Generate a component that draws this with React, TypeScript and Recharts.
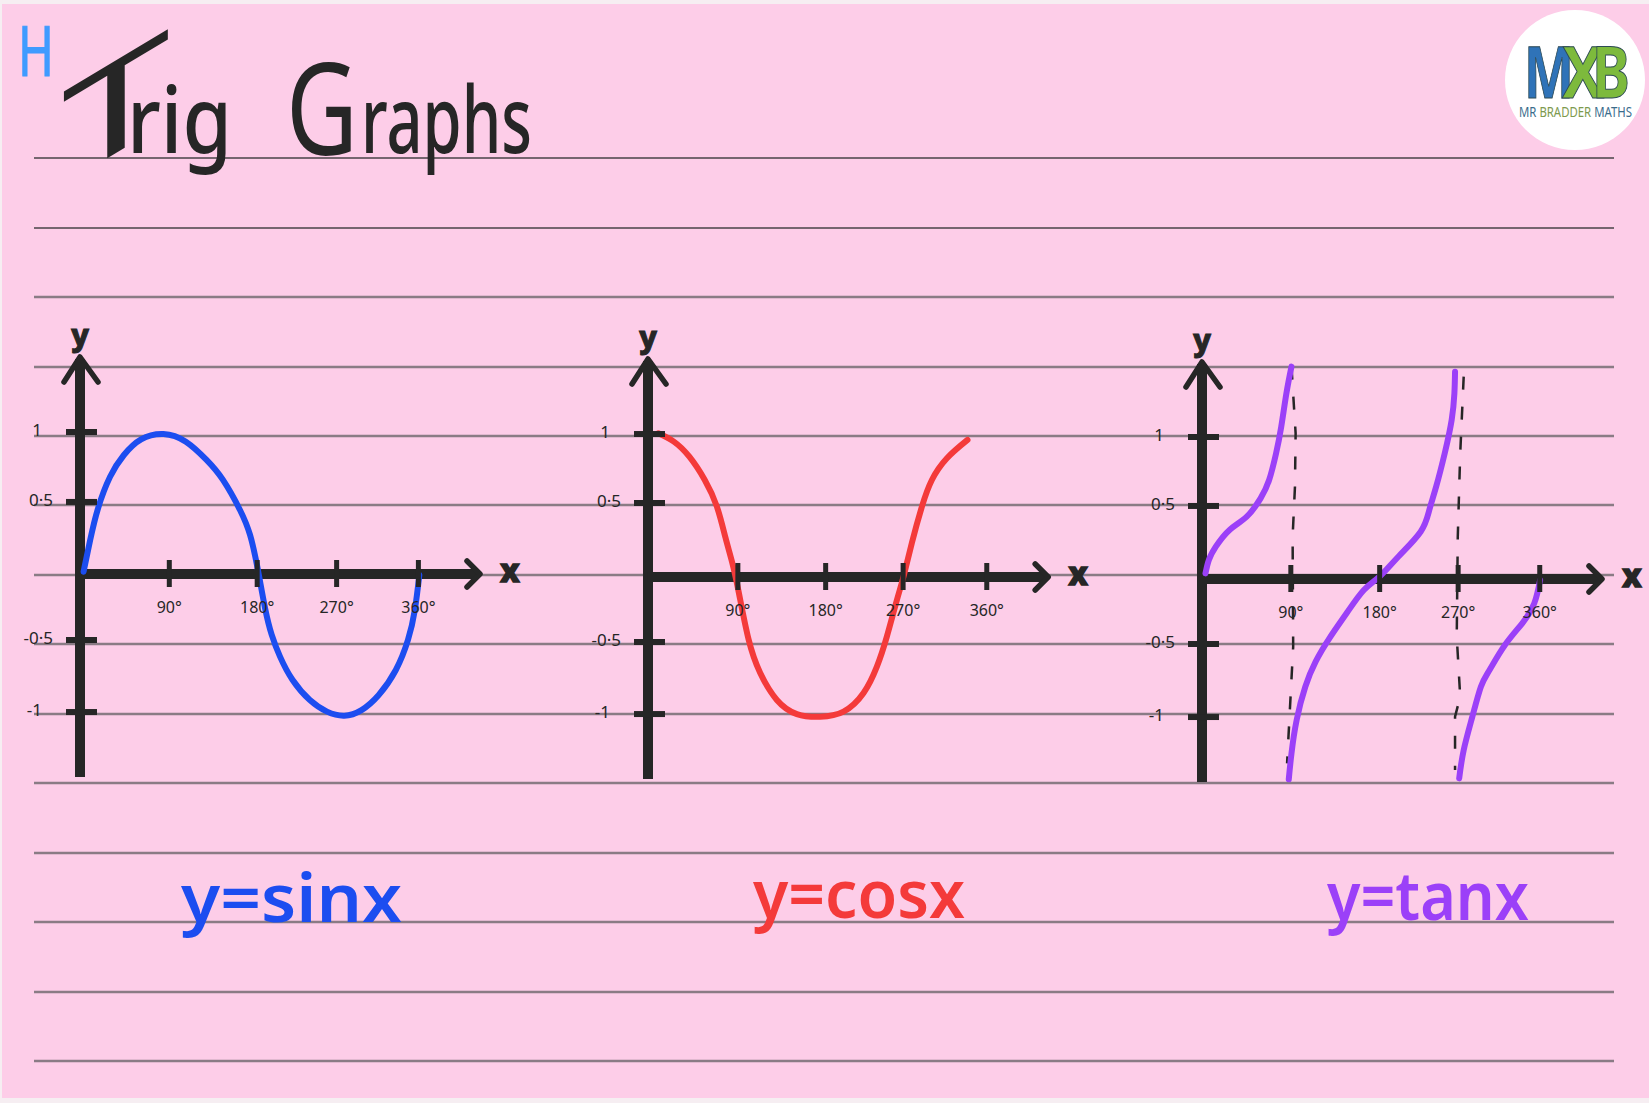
import { Line, LineChart, ReferenceLine, XAxis, YAxis } from "recharts";

const sinX = [3.8, 10.8, 19.2, 32, 46.7, 65, 88.8, 112.6, 134.6, 152.1, 170.2, 180.9, 188.6, 196.8, 203.9, 212.8, 226.2, 244.5, 262.8, 281.1, 299.5, 317.8, 336, 348.9, 356.2, 361];
const sinY = [0.016, 0.24, 0.466, 0.69, 0.844, 0.955, 0.993, 0.938, 0.809, 0.667, 0.454, 0.277, 0.052, -0.24, -0.43, -0.586, -0.752, -0.894, -0.976, -1.005, -0.965, -0.858, -0.681, -0.468, -0.255, -0.007];

const cosX = [11, 27.5, 44, 60.4, 73.3, 82.4, 89.3, 96.3, 106.9, 119.4, 137.1, 158.4, 183.2, 208, 229.3, 243.5, 254.1, 264.8, 271.8, 280.7, 291.4, 302, 318, 339.9];
const cosY = [1.019, 0.96, 0.853, 0.688, 0.499, 0.28, 0.11, -0.1, -0.44, -0.681, -0.872, -0.972, -0.991, -0.955, -0.823, -0.636, -0.423, -0.163, 0.002, 0.241, 0.499, 0.688, 0.842, 0.972];

const tanX1 = [3.7, 7.3, 14.7, 29.3, 47.6, 62.3, 71.4, 78.8, 84.3, 89.8, 95.2];
const tanY1 = [0.04, 0.135, 0.229, 0.348, 0.442, 0.572, 0.702, 0.891, 1.08, 1.317, 1.506];
const tanX2 = [92.3, 95.2, 100.7, 109.9, 120.9, 135.5, 153.8, 172.2, 188.7, 208.8, 232.6, 241.8, 249.1, 258.2, 265.6, 268.5, 269.2];
const tanY2 = [-1.421, -1.236, -1, -0.764, -0.586, -0.421, -0.243, -0.078, 0.016, 0.158, 0.335, 0.489, 0.655, 0.891, 1.128, 1.317, 1.47];
const tanX3 = [273.6, 278.4, 287.6, 296.7, 305.9, 322.3, 340.7, 353.5, 359.7];
const tanY3 = [-1.414, -1.213, -0.976, -0.764, -0.645, -0.468, -0.314, -0.172, -0.007];

const dashX1 = [95.2, 99.6, 98.9, 96.4, 97, 90.5];
const dashY1 = [1.506, 1.033, 0.655, 0.3, -0.48, -1.308];
const dashX2 = [278.4, 274.7, 272.1, 271, 274.7, 269.2, 269.2];
const dashY2 = [1.435, 0.891, 0.3, -0.409, -0.835, -0.976, -1.355];

const xTickLabels = ["90°", "180°", "270°", "360°"];
const yTickLabels = ["1", "0·5", "-0·5", "-1"];

// hand drawn ticks don't sit exactly on the round values
const sinXTicks = [95, 188.5, 273, 360];
const sinYTicks = [1.007, 0.511, -0.468, -0.979];
const cosXTicks = [95.6, 189, 271.4, 360.4];
const cosYTicks = [1.014, 0.525, -0.461, -0.972];
const tanXTicks = [94.5, 189, 272.5, 359.3];
const tanYTicks = [1.007, 0.518, -0.461, -0.979];

const ruledLines = [158, 228, 297, 367, 436, 505, 575, 644, 714, 783, 853, 922, 992, 1061];

const INK = "#262626";
const BLUE = "#1c4df0";
const RED = "#f43a3a";
const PURPLE = "#9b40f8";
const PEN = "'Noto Sans', sans-serif";

const PX_PER_DEG = 0.94;
const PX_PER_UNIT = 141;
const AXIS_W = 78;
const PAD_TOP = 50;
const PAD_BOTTOM = 10;
const PAD_RIGHT = 50;

const zip = (xs: number[], ys: number[]) => xs.map((x, i) => ({ x, y: ys[i] }));

type Curve = { name: string; data: { x: number; y: number }[]; color: string; dashed?: boolean };

type PanelProps = {
  originX: number;
  zeroY: number;
  topY: number;
  bottomY: number;
  tipX: number;
  xTicks: number[];
  yTicks: number[];
  curves: Curve[];
};

function HArrow({ x1, y1, x2 }: any) {
  return (
    <g>
      <line x1={x1} y1={y1} x2={x2 - 2} y2={y1} stroke={INK} strokeWidth={10} />
      <polyline
        points={`${x2 - 13},${y1 - 13} ${x2},${y1} ${x2 - 13},${y1 + 13}`}
        fill="none"
        stroke={INK}
        strokeWidth={5.5}
        strokeLinecap="round"
        strokeLinejoin="round"
      />
      <text x={x2 + 30} y={y1 + 8} textAnchor="middle" fontFamily={PEN} fontWeight={800} fontSize={32} fill={INK} stroke={INK} strokeWidth={1.5}>
        x
      </text>
    </g>
  );
}

function VArrow({ x1, y1, y2 }: any) {
  const top = Math.min(y1, y2);
  const bottom = Math.max(y1, y2);
  return (
    <g>
      <line x1={x1} y1={top + 2} x2={x1} y2={bottom} stroke={INK} strokeWidth={10} />
      <polyline
        points={`${x1 - 16},${top + 25} ${x1},${top} ${x1 + 18},${top + 25}`}
        fill="none"
        stroke={INK}
        strokeWidth={5.5}
        strokeLinecap="round"
        strokeLinejoin="round"
      />
      <text x={x1} y={top - 11} textAnchor="middle" fontFamily={PEN} fontWeight={800} fontSize={30} fill={INK} stroke={INK} strokeWidth={1}>
        y
      </text>
    </g>
  );
}

function TrigPanel({ originX, zeroY, topY, bottomY, tipX, xTicks, yTicks, curves }: PanelProps) {
  const plotW = tipX - originX;
  const plotH = bottomY - topY;
  const toBottom = bottomY - zeroY;

  const renderXTick = ({ x, y, index }: any) => (
    <g key={index}>
      <line x1={x} x2={x} y1={y - toBottom - 14} y2={y - toBottom + 13} stroke={INK} strokeWidth={5} />
      <text x={x} y={y - toBottom + 39} textAnchor="middle" fontFamily={PEN} fontSize={16} fill={INK}>
        {xTickLabels[index]}
      </text>
    </g>
  );

  const renderYTick = ({ x, y, index }: any) => (
    <g key={index}>
      <line x1={x - 14} x2={x + 17} y1={y} y2={y} stroke={INK} strokeWidth={6} />
      <text
        x={x - (index === 0 || index === 3 ? 38 : 27)}
        y={y + 4}
        textAnchor="end"
        fontFamily={PEN}
        fontSize={17}
        fill={INK}
      >
        {yTickLabels[index]}
      </text>
    </g>
  );

  return (
    <div style={{ position: "absolute", left: originX - AXIS_W, top: topY - PAD_TOP }}>
      <LineChart
        width={AXIS_W + plotW + PAD_RIGHT}
        height={plotH + PAD_TOP + PAD_BOTTOM}
        margin={{ top: PAD_TOP, right: PAD_RIGHT, bottom: PAD_BOTTOM - 1, left: 0 }}
      >
        <XAxis
          type="number"
          dataKey="x"
          domain={[0, plotW / PX_PER_DEG]}
          ticks={xTicks}
          interval={0}
          height={1}
          tickSize={0}
          tickMargin={0}
          axisLine={false}
          tickLine={false}
          tick={renderXTick}
        />
        <YAxis
          type="number"
          domain={[-toBottom / PX_PER_UNIT, (zeroY - topY) / PX_PER_UNIT]}
          ticks={yTicks}
          interval={0}
          width={AXIS_W}
          tickSize={0}
          tickMargin={0}
          axisLine={false}
          tickLine={false}
          tick={renderYTick}
        />
        <ReferenceLine x={0} shape={<VArrow />} />
        <ReferenceLine y={0} shape={<HArrow />} />
        {curves.map((c) => (
          <Line
            key={c.name}
            name={c.name}
            data={c.data}
            dataKey="y"
            type={c.dashed ? "linear" : "natural"}
            stroke={c.color}
            strokeWidth={c.dashed ? 2.5 : 6}
            strokeDasharray={c.dashed ? "13 17" : undefined}
            strokeLinecap={c.dashed ? "butt" : "round"}
            dot={false}
            activeDot={false}
            isAnimationActive={false}
          />
        ))}
      </LineChart>
    </div>
  );
}

function Backdrop() {
  return (
    <svg width={1649} height={1103} style={{ position: "absolute", left: 0, top: 0 }}>
      <rect width={1649} height={1103} fill="#f6eef2" />
      <rect x={2} y={4} width={1647} height={1094} fill="#fdcde8" />
      {ruledLines.map((y, i) => (
        <line key={y} x1={34} x2={1614} y1={y} y2={y} stroke={i < 2 ? "#75656f" : "#8a7b85"} strokeWidth={i < 2 ? 2 : 2.5} />
      ))}

      <text x={18} y={76} fontFamily={PEN} fontSize={70} fill="#3f9bff" stroke="#3f9bff" strokeWidth={1} textLength={36} lengthAdjust="spacingAndGlyphs">
        H
      </text>

      <g fontFamily={PEN} fill={INK}>
        <text
          transform="translate(116,153) skewY(-31)"
          x={-54}
          y={0}
          fontSize={130}
          fontWeight={400}
          textLength={108}
          lengthAdjust="spacingAndGlyphs"
        >
          T
        </text>
        <text x={127} y={153} fontSize={92} fontWeight={500} textLength={105} lengthAdjust="spacingAndGlyphs">
          rig
        </text>
        <text x={286} y={155} fontSize={128} fontWeight={400} textLength={72} lengthAdjust="spacingAndGlyphs">
          G
        </text>
        <text x={361} y={153} fontSize={92} fontWeight={500} textLength={171} lengthAdjust="spacingAndGlyphs">
          raphs
        </text>
      </g>

      <g fontFamily={PEN} fontWeight={600} fontSize={66}>
        <text x={181} y={922} fill={BLUE} textLength={221} lengthAdjust="spacingAndGlyphs">
          y=sinx
        </text>
        <text x={753} y={918} fill={RED} textLength={212} lengthAdjust="spacingAndGlyphs">
          y=cosx
        </text>
        <text x={1327} y={920} fill={PURPLE} textLength={202} lengthAdjust="spacingAndGlyphs">
          y=tanx
        </text>
      </g>

      <circle cx={1575} cy={80} r={70} fill="#fff" />
      <g fontFamily={PEN} fontWeight={700} fontSize={72} stroke="#2d4a55" strokeWidth={1}>
        <text x={1524} y={98} fill="#2f73b8" textLength={50} lengthAdjust="spacingAndGlyphs">
          M
        </text>
        <text x={1562} y={98} fill="#7dba3c" textLength={42} lengthAdjust="spacingAndGlyphs">
          X
        </text>
        <text x={1592} y={98} fill="#7dba3c" textLength={38} lengthAdjust="spacingAndGlyphs">
          B
        </text>
      </g>
      <text x={1519} y={117} fontFamily={PEN} fontSize={14} textLength={113} lengthAdjust="spacingAndGlyphs" fill="#3a6c8c">
        MR <tspan fill="#7d9a4e">BRADDER</tspan> MATHS
      </text>
    </svg>
  );
}

export default function App() {
  return (
    <div style={{ position: "absolute", left: 0, top: 0, width: 1649, height: 1103, overflow: "hidden" }}>
      <Backdrop />
      <TrigPanel
        originX={80}
        zeroY={574}
        topY={357}
        bottomY={777}
        tipX={480}
        xTicks={sinXTicks}
        yTicks={sinYTicks}
        curves={[{ name: "y=sinx", data: zip(sinX, sinY), color: BLUE }]}
      />
      <TrigPanel
        originX={647.8}
        zeroY={577}
        topY={359}
        bottomY={779}
        tipX={1048}
        xTicks={cosXTicks}
        yTicks={cosYTicks}
        curves={[{ name: "y=cosx", data: zip(cosX, cosY), color: RED }]}
      />
      <TrigPanel
        originX={1202}
        zeroY={579}
        topY={362}
        bottomY={782}
        tipX={1602}
        xTicks={tanXTicks}
        yTicks={tanYTicks}
        curves={[
          { name: "asymptote 90", data: zip(dashX1, dashY1), color: INK, dashed: true },
          { name: "asymptote 270", data: zip(dashX2, dashY2), color: INK, dashed: true },
          { name: "y=tanx a", data: zip(tanX1, tanY1), color: PURPLE },
          { name: "y=tanx b", data: zip(tanX2, tanY2), color: PURPLE },
          { name: "y=tanx c", data: zip(tanX3, tanY3), color: PURPLE },
        ]}
      />
    </div>
  );
}
